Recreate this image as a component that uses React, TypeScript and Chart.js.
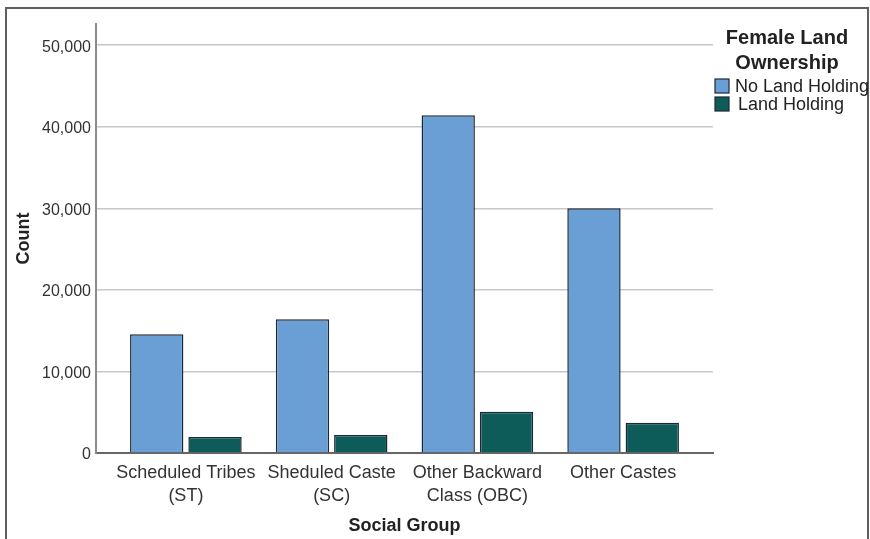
import React, { useEffect, useRef } from 'react';
import { Chart, registerables, CategoryScale } from 'chart.js';

Chart.register(...registerables);

// Category scale whose band starts a little inside the axis line on both ends
class PaddedCategoryScale extends CategoryScale {
  configure() {
    super.configure();
    const pad = (this.options as any).edgePadding || 0;
    (this as any)._startPixel += pad;
    (this as any)._endPixel -= pad;
    (this as any)._length -= 2 * pad;
  }
}
(PaddedCategoryScale as any).id = 'paddedCategory';
Chart.register(PaddedCategoryScale as any);

const categories: string[][] = [
  ['Scheduled Tribes', '(ST)'],
  ['Sheduled Caste', '(SC)'],
  ['Other Backward', 'Class (OBC)'],
  ['Other Castes'],
];
const seriesLabels = ['No Land Holding', 'Land Holding'];
const noLandHolding = [14550, 16400, 41400, 30000];
const landHolding = [1950, 2200, 5050, 3700];
const yTicks = [0, 10000, 20000, 30000, 40000, 50000];
const legendTitle = ['Female Land', 'Ownership'];
const yTitle = 'Count';
const xTitle = 'Social Group';
const yMax = 52600;

const FONT = "'Liberation Sans', Arial, sans-serif";
const BLUE = '#6a9fd6';
const GREEN = '#0e5c5a';
const BAR_BORDER = '#1c2833';

const legendPlugin = {
  id: 'spssLegend',
  afterDraw(chart: any) {
    const ctx = chart.ctx;
    ctx.save();
    ctx.fillStyle = '#222';
    ctx.textAlign = 'center';
    ctx.textBaseline = 'alphabetic';
    ctx.font = `bold 20px ${FONT}`;
    const titleBaselines = [44, 69];
    legendTitle.forEach((t, i) => ctx.fillText(t, 787, titleBaselines[i]));
    const items = chart.data.datasets.map((ds: any) => ({ label: ds.label, color: ds.backgroundColor }));
    const itemTops = [79, 97];
    const textX = [735, 738];
    ctx.font = `18px ${FONT}`;
    ctx.textAlign = 'left';
    items.forEach((it: any, i: number) => {
      const top = itemTops[i];
      ctx.fillStyle = it.color;
      ctx.fillRect(715, top, 14, 14);
      ctx.strokeStyle = BAR_BORDER;
      ctx.lineWidth = 1.2;
      ctx.strokeRect(715, top, 14, 14);
      ctx.fillStyle = '#222';
      ctx.fillText(it.label, textX[i], top + 13);
    });
    ctx.restore();
  },
};

export default function App() {
  const ref = useRef<HTMLCanvasElement | null>(null);
  useEffect(() => {
    if (!ref.current) return;
    const chart = new Chart(ref.current, {
      type: 'bar',
      data: {
        labels: categories as any,
        datasets: [
          {
            label: seriesLabels[0],
            data: noLandHolding,
            backgroundColor: BLUE,
            borderColor: BAR_BORDER,
            borderWidth: 1.5,
            categoryPercentage: 0.8,
            barPercentage: 0.915,
          },
          {
            label: seriesLabels[1],
            data: landHolding,
            backgroundColor: GREEN,
            borderColor: BAR_BORDER,
            borderWidth: 1.5,
            categoryPercentage: 0.8,
            barPercentage: 0.915,
          },
        ],
      },
      options: {
        animation: false,
        responsive: false,
        layout: { padding: { left: 0, top: 24, right: 157, bottom: 0 } },
        plugins: {
          legend: { display: false },
          tooltip: { enabled: false },
        },
        scales: {
          x: {
            type: 'paddedCategory' as any,
            edgePadding: 17,
            offset: true,
            grid: { display: false, drawTicks: false },
            border: { display: true, color: '#666', width: 2 },
            ticks: {
              color: '#333',
              padding: 9,
              maxRotation: 0,
              autoSkip: false,
              font: { family: FONT, size: 18, lineHeight: 1.25 },
            },
            title: {
              display: true,
              text: xTitle,
              color: '#222',
              font: { family: FONT, size: 18, weight: 'bold' },
              padding: { top: 0, bottom: 2 },
            },
            afterFit: (s: any) => { s.height = 86; },
          } as any,
          y: {
            min: 0,
            max: yMax,
            grid: {
              drawTicks: false,
              lineWidth: 1.5,
              color: (c: any) => (c.tick && c.tick.value === 0 ? 'rgba(0,0,0,0)' : '#c8c8c8'),
            },
            border: { display: true, color: '#8c8c8c', width: 2 },
            afterBuildTicks: (s: any) => { s.ticks = yTicks.map((v) => ({ value: v })); },
            ticks: {
              color: '#333',
              padding: 5,
              labelOffset: 2,
              font: { family: FONT, size: 16 },
              callback: (v: any) => Number(v).toLocaleString('en-US'),
            },
            title: {
              display: true,
              text: yTitle,
              color: '#222',
              font: { family: FONT, size: 18, weight: 'bold' },
              padding: { top: 13.7, bottom: 0 },
            },
            afterFit: (s: any) => { s.width = 96; },
          } as any,
        },
      },
      plugins: [legendPlugin],
    });
    return () => chart.destroy();
  }, []);

  return (
    <div style={{ position: 'fixed', left: 0, top: 0, width: 870, height: 539, background: '#fff', overflow: 'hidden' }}>
      <div
        style={{
          position: 'absolute',
          left: 5,
          top: 7,
          width: 864,
          height: 600,
          border: '2px solid #5f5f5f',
          boxSizing: 'border-box',
        }}
      />
      <canvas ref={ref} width={870} height={539} style={{ position: 'absolute', left: 0, top: 0, display: 'block' }} />
    </div>
  );
}
